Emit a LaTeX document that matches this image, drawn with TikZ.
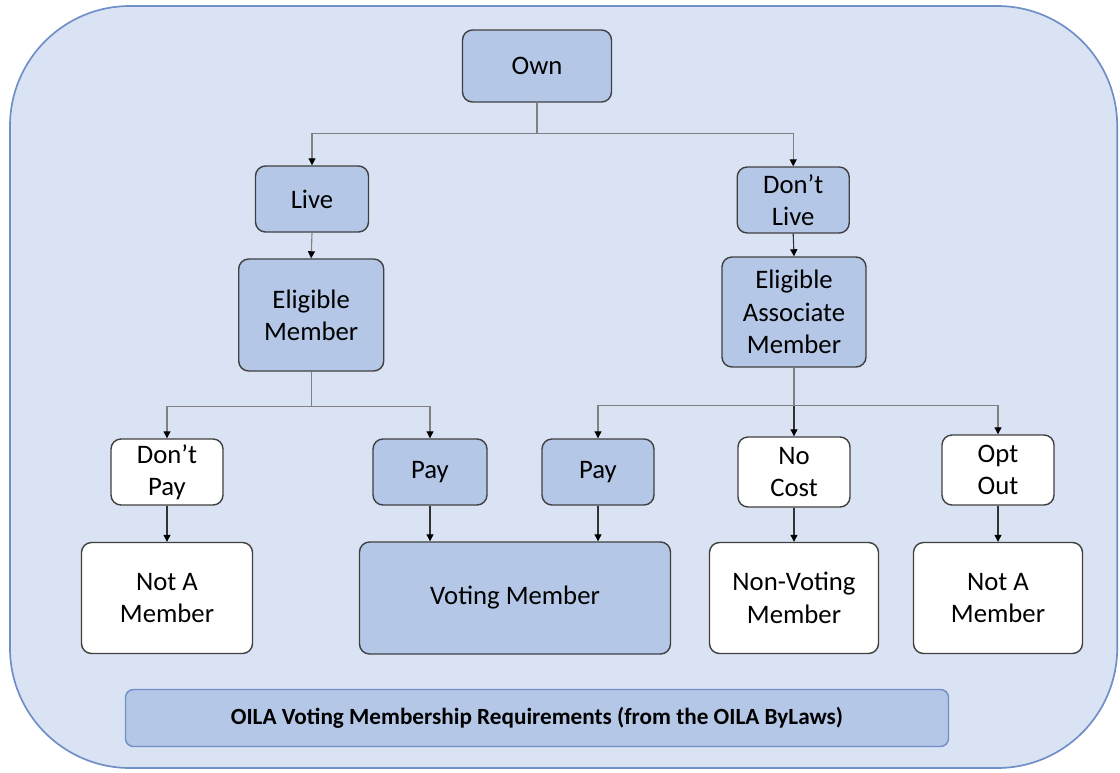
\documentclass[tikz,border=0pt]{standalone}
\usepackage{fontspec}
\setmainfont{Carlito}
\usetikzlibrary{arrows.meta}

\definecolor{bgblue}{HTML}{DAE3F3}
\definecolor{boxblue}{HTML}{B4C7E7}
\definecolor{edgeblue}{HTML}{6F8FC6}
\definecolor{boxline}{HTML}{404040}

\tikzset{
	flow/.style={draw=boxline, line width=1pt, rounded corners=0.25cm, align=center,
		font=\fontsize{19}{23}\selectfont, inner sep=0pt},
	bluebox/.style={flow, fill=boxblue},
	whitebox/.style={flow, fill=white},
	link/.style={draw=black!50, line width=0.8pt},
	linkdark/.style={draw=black!80, line width=0.8pt},
}

\begin{document}
\begin{tikzpicture}[>={Triangle[length=5pt,width=5pt,color=black]}]
		\useasboundingbox (0,0) rectangle (28,-19.3);
		
		% Background panel
		\filldraw[fill=bgblue, draw=edgeblue, line width=1.2pt, rounded corners=3cm] (0.25,-0.15) rectangle (27.93,-19.2);
		
		% Top
		\node[bluebox, minimum width=3.725cm, minimum height=1.8cm] (own) at (13.425,-1.65) {Own};
		
		% Live / Don't live
		\node[bluebox, minimum width=2.825cm, minimum height=1.65cm] (live) at (7.8,-4.975) {Live};
		\node[bluebox, minimum width=2.8cm, minimum height=1.65cm] (nolive) at (19.83,-5.0) {Don’t\\Live};
		
		% Eligible
		\node[bluebox, minimum width=3.625cm, minimum height=2.8cm] (elig) at (7.78,-7.875) {Eligible\\Member};
		\node[bluebox, minimum width=3.6cm, minimum height=2.75cm] (assoc) at (19.85,-7.8) {Eligible\\Associate\\Member};
		
		% Middle row
		\node[whitebox, minimum width=2.8cm, minimum height=1.65cm] (dontpay) at (4.175,-11.8) {Don’t\\Pay};
		\node[bluebox, minimum width=2.85cm, minimum height=1.65cm] (payA) at (10.75,-11.8) {Pay};
		\node[bluebox, minimum width=2.8cm, minimum height=1.65cm] (payB) at (14.95,-11.8) {Pay};
		\node[whitebox, minimum width=2.8cm, minimum height=1.75cm] (nocost) at (19.85,-11.8) {No\\Cost};
		\node[whitebox, minimum width=2.8cm, minimum height=1.75cm] (optout) at (24.95,-11.75) {Opt\\Out};
		
		% Bottom row
		\node[whitebox, minimum width=4.275cm, minimum height=2.775cm] (notmemA) at (4.175,-14.95) {Not A\\Member};
		\node[bluebox, minimum width=7.775cm, minimum height=2.8cm] (voting) at (12.875,-14.95) {Voting Member};
		\node[whitebox, minimum width=4.225cm, minimum height=2.775cm] (nonvoting) at (19.85,-14.95) {Non-Voting\\Member};
		\node[whitebox, minimum width=4.225cm, minimum height=2.775cm] (notmemB) at (24.95,-14.95) {Not A\\Member};
		
		% Caption bar
		\node[fill=boxblue, draw=edgeblue, line width=1pt, rounded corners=0.2cm, minimum width=20.575cm, minimum height=1.425cm,
			font=\fontsize{16.5}{19}\selectfont\bfseries] (caption) at (13.425,-17.95) {OILA Voting Membership Requirements (from the OILA ByLaws)};
		
		% Own splits
		\draw[link,->] (own.south) -- ++(0,-0.775) -| (live.north);
		\draw[link,->] (own.south) -- ++(0,-0.775) -| (nolive.north);
		
		% Down to eligible
		\draw[link,->] (live.south) -- (elig.north);
		\draw[linkdark,->] (nolive.south) -- (assoc.north);
		
		% Eligible member splits
		\draw[link,->] (elig.south) -- ++(0,-0.875) -| (dontpay.north);
		\draw[link,->] (elig.south) -- ++(0,-0.875) -| (payA.north);
		
		% Associate splits
		\draw[link,->] (assoc.south) -- ++(0,-0.95) -| (payB.north);
		\draw[linkdark,->] (assoc.south) -- (nocost.north);
		\draw[link,->] (assoc.south) -- ++(0,-0.95) -| (optout.north);
		
		% Into results
		\draw[linkdark,->] (dontpay.south) -- (notmemA.north);
		\draw[linkdark,->] (payA.south) -- (payA.south |- voting.north);
		\draw[linkdark,->] (payB.south) -- (payB.south |- voting.north);
		\draw[linkdark,->] (nocost.south) -- (nonvoting.north);
		\draw[linkdark,->] (optout.south) -- (notmemB.north);
\end{tikzpicture}
\end{document}
